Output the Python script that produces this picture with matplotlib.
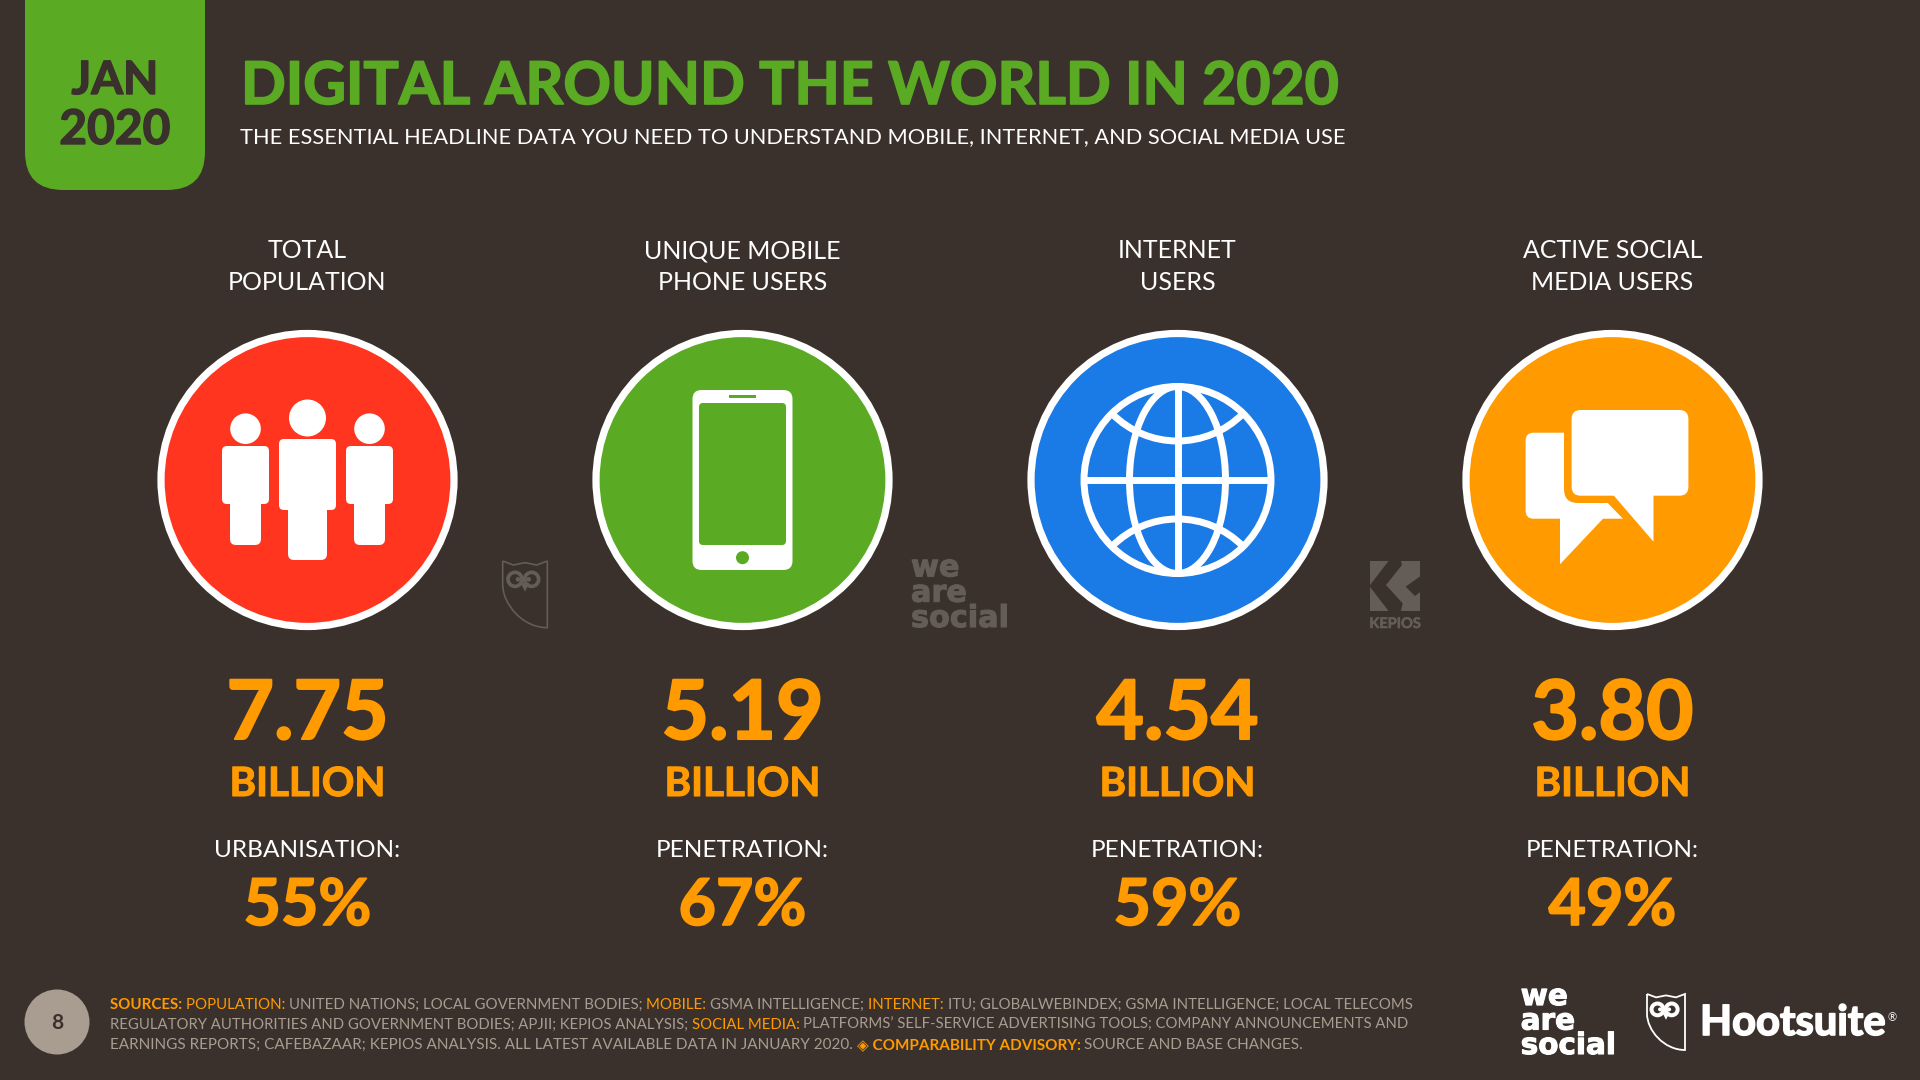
import matplotlib
matplotlib.use('Agg')
import matplotlib.pyplot as plt
import matplotlib.patheffects as pe
from matplotlib.patches import Circle, Ellipse, FancyBboxPatch, Polygon, PathPatch, Rectangle
from matplotlib.path import Path
from matplotlib.font_manager import FontProperties

# colours
BG = '#3a302c'
GREEN = '#5aaa23'
ORANGE = '#ff9a00'
RED = '#ff351f'
BLUE = '#1a7ae6'
GREY = '#a99c90'
LOGO = '#645c57'

# data
headers = [['TOTAL', 'POPULATION'], ['UNIQUE MOBILE', 'PHONE USERS'], ['INTERNET', 'USERS'], ['ACTIVE SOCIAL', 'MEDIA USERS']]
values = ['7.75', '5.19', '4.54', '3.80']
unit = 'BILLION'
sub_labels = ['URBANISATION:', 'PENETRATION:', 'PENETRATION:', 'PENETRATION:']
percents = ['55%', '67%', '59%', '49%']
circle_colors = [RED, GREEN, BLUE, ORANGE]
centers = [307.5, 742.5, 1177.5, 1612.5]

footnote = [
    [('SOURCES: ', ORANGE, 'bold'), ('POPULATION: ', ORANGE, 'normal'),
     ('UNITED NATIONS; LOCAL GOVERNMENT BODIES; ', GREY, 'normal'), ('MOBILE: ', ORANGE, 'normal'),
     ('GSMA INTELLIGENCE; ', GREY, 'normal'), ('INTERNET: ', ORANGE, 'normal'),
     ('ITU; GLOBALWEBINDEX; GSMA INTELLIGENCE; LOCAL TELECOMS', GREY, 'normal')],
    [('REGULATORY AUTHORITIES AND GOVERNMENT BODIES; APJII; KEPIOS ANALYSIS; ', GREY, 'normal'),
     ('SOCIAL MEDIA: ', ORANGE, 'normal'),
     ('PLATFORMS\u2019 SELF-SERVICE ADVERTISING TOOLS; COMPANY ANNOUNCEMENTS AND', GREY, 'normal')],
    [('EARNINGS REPORTS; CAFEBAZAAR; KEPIOS ANALYSIS. ALL LATEST AVAILABLE DATA IN JANUARY 2020. ', GREY, 'normal'),
     ('\u25c8 COMPARABILITY ADVISORY: ', ORANGE, 'bold'),
     ('SOURCE AND BASE CHANGES.', GREY, 'normal')],
]

FONT = ['Lato', 'DejaVu Sans']

fig = plt.figure(figsize=(19.2, 10.8), dpi=100, facecolor=BG)
ax = fig.add_axes([0, 0, 1, 1])
ax.set_xlim(0, 1920)
ax.set_ylim(1080, 0)
ax.axis('off')


def txt(x, y, s, size, color='white', weight='normal', ha='center', family=FONT, stroke=0, **kw):
    t = ax.text(x, y, s, fontsize=size, color=color, fontweight=weight, ha=ha, va='baseline', family=family, **kw)
    if stroke:
        # the reference face is heavier than Lato Bold
        t.set_path_effects([pe.withStroke(linewidth=stroke, foreground=color)])
    return t


def rrect(x0, y0, x1, y1, r, color, **kw):
    p = FancyBboxPatch((x0 + r, y0 + r), x1 - x0 - 2 * r, y1 - y0 - 2 * r,
                       boxstyle='round,pad=%s,rounding_size=%s' % (r, r), fc=color, ec='none', lw=0, **kw)
    ax.add_patch(p)
    return p


def draw_segments(x, y, segs, size):
    rend = fig.canvas.get_renderer()
    for s, color, weight in segs:
        txt(x, y, s, size, color, weight, 'left')
        fp = FontProperties(family=FONT, size=size, weight=weight)
        w1 = rend.get_text_width_height_descent(s + '|', fp, False)[0]
        w2 = rend.get_text_width_height_descent('|', fp, False)[0]
        x += w1 - w2


def owl(x, y, w, h, color, lw):
    # shield outline with the two ear tips, scaled into the box
    sx = w / 134.0
    sy = h / 200.0
    pt = lambda a, b: (x + a * sx, y + b * sy)
    verts = [pt(0, 0), pt(32, 12), pt(67, 5), pt(102, 12), pt(134, 0), pt(134, 200),
             pt(60, 200), pt(0, 130), pt(0, 70), pt(0, 0)]
    codes = [Path.MOVETO, Path.LINETO, Path.LINETO, Path.LINETO, Path.LINETO, Path.LINETO,
             Path.CURVE4, Path.CURVE4, Path.CURVE4, Path.LINETO]
    ax.add_patch(PathPatch(Path(verts, codes), fc='none', ec=color, lw=lw, joinstyle='miter'))
    for a, p in ((37, 46), (87, 78)):
        ax.add_patch(Ellipse(pt(a, 55), 42 * sx, 42 * sy, fc='none', ec=color, lw=lw * 2.2))
        ax.add_patch(Ellipse(pt(p, 55), 14 * sx, 14 * sy, fc=color, ec='none'))
    ax.add_patch(Polygon([pt(54, 66), pt(80, 66), pt(67, 92)], fc=color, ec='none'))


def wearesocial(x, y, size, color, spacing):
    txt(x, y, 'we\nare\nsocial', size, color, 'bold', 'left', 'DejaVu Sans', stroke=0.8, linespacing=spacing)


# header
rrect(25, -60, 205, 190, 38, GREEN)
txt(115, 94, 'JAN', 33, BG, 'bold', stroke=1)
txt(115, 144, '2020', 34.5, BG, 'bold', stroke=1)
txt(241, 104, 'DIGITAL AROUND THE WORLD IN 2020', 42.4, GREEN, 'bold', 'left', stroke=1.2)
txt(240, 143, 'THE ESSENTIAL HEADLINE DATA YOU NEED TO UNDERSTAND MOBILE, INTERNET, AND SOCIAL MEDIA USE', 15.7, 'white', 'normal', 'left')

# columns
for i, cx in enumerate(centers):
    txt(cx, 258.5, headers[i][0], 18)
    txt(cx, 290.5, headers[i][1], 18)
    ax.add_patch(Circle((cx, 480), 146.5, fc=circle_colors[i], ec='white', lw=5.2))
    txt(cx, 739, values[i], 59, ORANGE, 'bold', stroke=1.5)
    txt(cx, 796, unit, 29, ORANGE, 'bold', stroke=0.8)
    txt(cx, 857, sub_labels[i], 17.6)
    txt(cx, 925, percents[i], 46.5, ORANGE, 'bold', stroke=1.2)

# people icon
c = centers[0]
for dx, hy, hr, by0, by1, bw, ly1, lw in [(-62, 428.7, 15.3, 446, 504, 23.5, 545, 15.5), (0, 418, 18.5, 439, 510, 28.5, 560, 19.5), (62, 428.7, 15.3, 446, 504, 23.5, 545, 15.5)]:
    ax.add_patch(Circle((c + dx, hy), hr, fc='white', ec='none'))
    rrect(c + dx - bw, by0, c + dx + bw, by1, 5, 'white')
    rrect(c + dx - lw, by1 - 12, c + dx + lw, ly1, 6, 'white')

# phone icon
c = centers[1]
rrect(c - 50, 390, c + 50, 570, 9, 'white')
rrect(c - 43.5, 403, c + 43.5, 545, 4, GREEN)
ax.add_patch(Rectangle((c - 13.5, 395), 27, 3, fc=GREEN, ec='none'))
ax.add_patch(Circle((c, 557.7), 6.5, fc=GREEN, ec='none'))

# globe icon
c = centers[2]
ring = Circle((c, 480), 93.5, fc='none', ec='white', lw=5)
ax.add_patch(ring)
ax.add_patch(Ellipse((c, 480), 96, 187, fc='none', ec='white', lw=5))
ax.plot([c - 93, c + 93], [480, 480], color='white', lw=5, solid_capstyle='butt')
ax.plot([c, c], [387, 573], color='white', lw=5, solid_capstyle='butt')
for cy in (349, 611):
    arc = Circle((c, cy), 92, fc='none', ec='white', lw=5)
    ax.add_patch(arc)
    arc.set_clip_path(Circle((c, 480), 93.5, transform=ax.transData))

# speech bubbles icon: small bubble, then the big one with an orange halo on top
rrect(1525.6, 432.7, 1630, 518.7, 8, 'white')
ax.add_patch(Polygon([(1560, 515), (1560, 564.3), (1606.5, 515)], fc='white', ec='none'))
rrect(1564, 402.5, 1696, 503, 14, ORANGE, zorder=3)
ax.add_patch(Polygon([(1600, 495), (1660, 557), (1660, 495)], fc=ORANGE, ec='none', zorder=3))
rrect(1571.6, 410, 1688.4, 495.7, 9, 'white', zorder=4)
ax.add_patch(Polygon([(1609, 490), (1653.5, 541.7), (1653.5, 490)], fc='white', ec='none', zorder=4))

# faint logos
owl(502.7, 561, 44.6, 66.7, LOGO, 1.2)
wearesocial(911, 627, 21.8, LOGO, 0.84)
ax.add_patch(Rectangle((1370, 561), 50, 50, fc=LOGO, ec='none'))
k = lambda a, b: (1360 + a / 3.0, 550 + b / 3.0)
ax.add_patch(Polygon([k(88, 30), k(122, 30), k(126, 45), k(78, 105), k(128, 160), k(122, 186), k(88, 186), k(28, 108)], fc=BG, ec='none'))
ax.add_patch(Polygon([k(182, 78), k(137, 110), k(165, 138), k(182, 125)], fc=BG, ec='none'))
txt(1395, 628, 'KEPIOS', 10.5, LOGO, 'bold', stroke=0.4)

# footer
ax.add_patch(Ellipse((57, 1022), 65, 65, fc=GREY, ec='none'))
txt(57, 1029, '8', 15, BG, 'bold')
for line, y, size in zip(footnote, [1009, 1029, 1049], [10.8, 10.7, 10.95]):
    draw_segments(110, y, line, size)
wearesocial(1520.7, 1054, 21.2, 'white', 0.84)
owl(1647, 994, 38, 56, 'white', 1.3)
txt(1700, 1035, 'Hootsuite', 30, 'white', 'bold', 'left', stroke=1.2)
txt(1887, 1021, '\u00ae', 8, 'white', 'normal', 'left')

fig.savefig('out.png', dpi=100, facecolor=BG)
